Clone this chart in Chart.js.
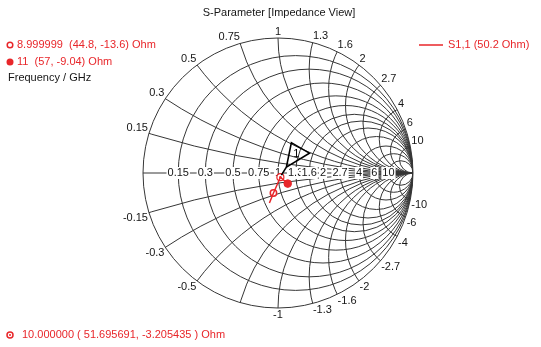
<!DOCTYPE html>
<html>
<head>
<meta charset="utf-8">
<script src="https://cdn.jsdelivr.net/npm/chart.js@4/dist/chart.umd.min.js"></script>
<style>
  html, body { margin: 0; padding: 0; background: #fff; }
  #chart { display: block; }
</style>
</head>
<body>
<canvas id="chart" width="541" height="347"></canvas>
<script>
// ---------------- DATA ----------------
const Z0 = 50;

// S1,1 trace, impedance in Ohm
const freqGHz = [8, 8.5, 9, 9.5, 10, 10.5, 11];
const resOhm = [40.1, 42.5, 44.8, 48.5, 51.695691, 54.3, 57];
const reactOhm = [-18.8, -16.3, -13.6, -8.7, -3.205435, -6.0, -9.04];

// markers: 9 GHz (open), 11 GHz (filled), 10 GHz (marker 1)
const markerFreq = [8.999999, 11, 10];
const markerRes = [44.8, 57, 51.695691];
const markerReact = [-13.6, -9.04, -3.205435];

// grid values (normalised r and x)
const gridValues = [0.15, 0.3, 0.5, 0.75, 1, 1.3, 1.6, 2, 2.7, 4, 6, 10];
// rim labels left out where the plot hides them
const hiddenRimLabels = [-0.75];

const RED = "#e8262a";
const GRID = "#363636";
const TEXT = "#151515";
const FONT = '"Liberation Sans", Arial, sans-serif';

// z -> reflection coefficient
function toGamma(R, X) {
  const r = R / Z0, x = X / Z0;
  const den = (r + 1) * (r + 1) + x * x;
  return { x: (r * r + x * x - 1) / den, y: (2 * x) / den };
}

const tracePts = freqGHz.map((f, i) => toGamma(resOhm[i], reactOhm[i]));
const markerPts = markerFreq.map((f, i) => toGamma(markerRes[i], markerReact[i]));

// ---------------- SMITH GRID ----------------
const smithGrid = {
  id: "smithGrid",
  beforeDatasetsDraw(chart) {
    const { ctx, scales } = chart;
    const sx = scales.x, sy = scales.y;
    const px = (v) => sx.getPixelForValue(v);
    const py = (v) => sy.getPixelForValue(v);
    const cx = px(0), cy = py(0);
    const R = px(1) - px(0);

    ctx.save();
    ctx.beginPath();
    ctx.arc(cx, cy, R, 0, Math.PI * 2);
    ctx.clip();
    ctx.strokeStyle = GRID;
    ctx.lineWidth = 1;

    // constant resistance circles
    gridValues.forEach((r) => {
      const c = r / (1 + r), rad = 1 / (1 + r);
      ctx.beginPath();
      ctx.arc(px(c), cy, rad * R, 0, Math.PI * 2);
      ctx.stroke();
    });

    // constant reactance arcs
    gridValues.forEach((x) => {
      [x, -x].forEach((v) => {
        ctx.beginPath();
        ctx.arc(px(1), py(1 / v), R / Math.abs(v), 0, Math.PI * 2);
        ctx.stroke();
      });
    });
    ctx.restore();

    // outer circle and real axis
    ctx.save();
    ctx.strokeStyle = GRID;
    ctx.lineWidth = 1;
    ctx.beginPath();
    ctx.arc(cx, cy, R, 0, Math.PI * 2);
    ctx.stroke();
    ctx.beginPath();
    ctx.moveTo(px(-1), cy);
    ctx.lineTo(px(1), cy);
    ctx.stroke();

    // real axis labels
    ctx.font = "11px " + FONT;
    ctx.textAlign = "center";
    ctx.textBaseline = "middle";
    gridValues.forEach((r) => {
      const g = (r - 1) / (r + 1);
      const t = String(r);
      const w = ctx.measureText(t).width;
      const x = px(g);
      ctx.fillStyle = "#fff";
      ctx.fillRect(x - w / 2 - 1, cy - 6, w + 2, 12);
      ctx.fillStyle = TEXT;
      ctx.fillText(t, x, cy);
    });

    // reactance labels round the rim
    gridValues.forEach((x) => {
      [x, -x].forEach((v) => {
        if (hiddenRimLabels.includes(v)) return;
        const a = Math.PI - 2 * Math.atan(v);
        const c = Math.cos(a), s = Math.sin(a);
        const lx = cx + c * (R + 1), ly = cy - s * (R + 1);
        ctx.textAlign = Math.abs(c) < 0.1 ? "center" : c < 0 ? "right" : "left";
        ctx.textBaseline = s > 0 ? "bottom" : "top";
        ctx.fillStyle = TEXT;
        ctx.fillText(String(v), lx, ly);
      });
    });
    ctx.restore();
  },

  afterDatasetsDraw(chart) {
    const { ctx, scales } = chart;
    const m = markerPts[2];
    const mx = scales.x.getPixelForValue(m.x);
    const my = scales.y.getPixelForValue(m.y);

    // centre dot of the 10 GHz marker
    ctx.save();
    ctx.fillStyle = RED;
    ctx.beginPath();
    ctx.arc(mx, my, 1.3, 0, Math.PI * 2);
    ctx.fill();

    // marker flag "1"
    ctx.strokeStyle = "#000";
    ctx.lineWidth = 1.6;
    ctx.beginPath();
    ctx.moveTo(mx + 6, my - 10);
    ctx.lineTo(mx + 11, my - 34.5);
    ctx.lineTo(mx + 29, my - 24);
    ctx.closePath();
    ctx.moveTo(mx + 1, my - 2);
    ctx.lineTo(mx + 6, my - 10);
    ctx.stroke();
    ctx.fillStyle = "#000";
    ctx.font = "11px " + FONT;
    ctx.textAlign = "center";
    ctx.textBaseline = "middle";
    ctx.fillText("1", mx + 16, my - 23);
    ctx.restore();
  },

  afterDraw(chart) {
    const { ctx } = chart;
    ctx.save();
    ctx.font = "11px " + FONT;
    ctx.textBaseline = "middle";

    // title
    ctx.fillStyle = TEXT;
    ctx.textAlign = "center";
    ctx.fillText("S-Parameter [Impedance View]", 279, 13);

    // marker readouts
    ctx.textAlign = "left";
    ctx.fillStyle = RED;
    ctx.strokeStyle = RED;
    ctx.lineWidth = 1.5;
    ctx.beginPath();
    ctx.arc(10, 45, 2.8, 0, Math.PI * 2);
    ctx.stroke();
    ctx.fillText(`${markerFreq[0]}  (${markerRes[0]}, ${markerReact[0]}) Ohm`, 17, 45);
    ctx.beginPath();
    ctx.arc(10, 62, 3.5, 0, Math.PI * 2);
    ctx.fill();
    ctx.fillText(`${markerFreq[1]}  (${markerRes[1]}, ${markerReact[1]}) Ohm`, 17, 62);
    ctx.fillStyle = TEXT;
    ctx.fillText("Frequency / GHz", 8, 78);

    // trace legend
    ctx.strokeStyle = RED;
    ctx.beginPath();
    ctx.moveTo(419, 45);
    ctx.lineTo(443, 45);
    ctx.stroke();
    ctx.fillStyle = RED;
    ctx.fillText("S1,1 (50.2 Ohm)", 448, 45);

    // marker 1 readout
    ctx.beginPath();
    ctx.arc(10, 335, 3, 0, Math.PI * 2);
    ctx.stroke();
    ctx.beginPath();
    ctx.arc(10, 335, 1, 0, Math.PI * 2);
    ctx.fill();
    ctx.fillText(`${markerFreq[2].toFixed(6)} ( ${markerRes[2].toFixed(6)}, ${markerReact[2].toFixed(6)} ) Ohm`, 22, 335);
    ctx.restore();
  },
};

// ---------------- CHART ----------------
new Chart(document.getElementById("chart"), {
  type: "scatter",
  data: {
    datasets: [
      {
        data: tracePts,
        showLine: true,
        borderColor: RED,
        borderWidth: 1.5,
        pointRadius: 0,
        tension: 0,
      },
      {
        data: [markerPts[0]],
        pointStyle: "circle",
        pointRadius: 3.2,
        borderColor: RED,
        borderWidth: 1.5,
        backgroundColor: "#fff",
      },
      {
        data: [markerPts[1]],
        pointStyle: "circle",
        pointRadius: 3.8,
        borderColor: RED,
        borderWidth: 1,
        backgroundColor: RED,
      },
      {
        data: [markerPts[2]],
        pointStyle: "circle",
        pointRadius: 3.5,
        borderColor: RED,
        borderWidth: 1.2,
        backgroundColor: "#fff",
      },
    ],
  },
  options: {
    responsive: false,
    animation: false,
    devicePixelRatio: 1,
    layout: { padding: { left: 143, right: 128, top: 38, bottom: 39 } },
    scales: {
      x: { type: "linear", min: -1, max: 1, display: false },
      y: { type: "linear", min: -1, max: 1, display: false },
    },
    plugins: {
      legend: { display: false },
      tooltip: { enabled: false },
    },
  },
  plugins: [smithGrid],
});
</script>
</body>
</html>
